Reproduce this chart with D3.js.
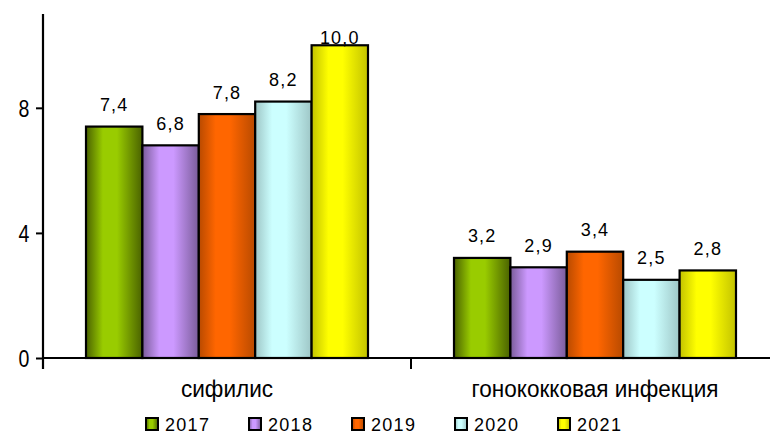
<!DOCTYPE html>
<html><head><meta charset="utf-8">
<script src="https://cdn.jsdelivr.net/npm/d3@7"></script>
<style>body{margin:0;background:#fff}svg{display:block}text{font-family:"Liberation Sans",Arial,sans-serif}</style>
</head><body>
<svg id="c" width="770" height="434"></svg>
<script>
const categories = ["сифилис", "гонококковая инфекция"];
const years = ["2017", "2018", "2019", "2020", "2021"];
const values2017 = [7.4, 3.2];
const values2018 = [6.8, 2.9];
const values2019 = [7.8, 3.4];
const values2020 = [8.2, 2.5];
const values2021 = [10.0, 2.8];
const yTicks = [0, 4, 8];
const series = [values2017, values2018, values2019, values2020, values2021];
const colors = [
  {light:"#99cc00", dark:"#4a6200"},
  {light:"#cc99ff", dark:"#7a5c99"},
  {light:"#ff6600", dark:"#b84a00"},
  {light:"#ccffff", dark:"#9ec6c6"},
  {light:"#ffff00", dark:"#c2c200"}
];

const svg = d3.select("#c");
const x0 = 43, x1 = 779, yTop = 14, yBase = 358;
const x = d3.scaleBand().domain(categories).range([x0, x1]).paddingInner(0).paddingOuter(0);
const xi = d3.scaleBand().domain(years).range([0, 282]);
const y = d3.scaleLinear().domain([0, 11]).range([yBase, yTop]);

const defs = svg.append("defs");
colors.forEach((c, i) => {
  const g = defs.append("linearGradient").attr("id", "g" + i).attr("x1", "0%").attr("x2", "100%").attr("y1", "0%").attr("y2", "0%");
  g.append("stop").attr("offset", "0%").attr("stop-color", c.dark);
  g.append("stop").attr("offset", "30%").attr("stop-color", c.light);
  g.append("stop").attr("offset", "55%").attr("stop-color", c.light);
  g.append("stop").attr("offset", "100%").attr("stop-color", c.dark);
});

// bars
categories.forEach((cat, ci) => {
  const gx = x(cat) + (x.bandwidth() - 282) / 2;
  years.forEach((yr, si) => {
    const v = series[si][ci];
    svg.append("rect")
      .attr("x", gx + xi(yr)).attr("y", y(v))
      .attr("width", xi.bandwidth()).attr("height", yBase - y(v))
      .attr("fill", `url(#g${si})`).attr("stroke", "#000").attr("stroke-width", 2.2);
    svg.append("text")
      .attr("x", gx + xi(yr) + xi.bandwidth() / 2)
      .attr("y", Math.max(y(v) - 15.5, 43.5))
      .attr("text-anchor", "middle").attr("font-size", 18).attr("letter-spacing", 1.2).attr("fill", "#000")
      .text(v.toFixed(1).replace(".", ","));
  });
});

// y axis
const yAxis = d3.axisLeft(y).tickValues(yTicks).tickSize(7).tickPadding(0).tickFormat(d => d);
const ya = svg.append("g").attr("transform", `translate(${x0},0)`).call(yAxis);
ya.select(".domain").remove();
ya.selectAll("line").attr("stroke", "#000").attr("stroke-width", 2);
ya.selectAll("text").attr("font-size", 23).attr("fill", "#000").attr("font-family", "Liberation Sans, Arial, sans-serif")
  .attr("dy", "0.36em").attr("x", 0)
  .attr("transform", "translate(-19,0) scale(0.85,1)").attr("text-anchor", "middle");
svg.append("line").attr("x1", x0).attr("x2", x0).attr("y1", yTop).attr("y2", yBase + 11).attr("stroke", "#000").attr("stroke-width", 2.2);

// x axis
svg.append("line").attr("x1", x0).attr("x2", 770).attr("y1", yBase).attr("y2", yBase).attr("stroke", "#000").attr("stroke-width", 2.2);
categories.slice(1).forEach(cat => {
  svg.append("line").attr("x1", x(cat)).attr("x2", x(cat)).attr("y1", yBase).attr("y2", yBase + 11).attr("stroke", "#000").attr("stroke-width", 2);
});
categories.forEach(cat => {
  const cx = x(cat) + x.bandwidth() / 2;
  svg.append("text").attr("transform", `translate(${cx},397) scale(0.94,1)`)
    .attr("text-anchor", "middle").attr("font-size", 24).attr("fill", "#000").text(cat);
});

// legend
const lx = d3.scaleBand().domain(years).range([146, 661]);
years.forEach((yr, i) => {
  const g = svg.append("g").attr("transform", `translate(${lx(yr)},418)`);
  g.append("rect").attr("x", 0).attr("y", 0).attr("width", 12).attr("height", 12)
    .attr("fill", `url(#g${i})`).attr("stroke", "#000").attr("stroke-width", 2);
  g.append("text").attr("x", 19).attr("y", 12.5).attr("font-size", 18).attr("letter-spacing", 1.3).attr("fill", "#000").text(yr);
});
</script>
</body></html>
